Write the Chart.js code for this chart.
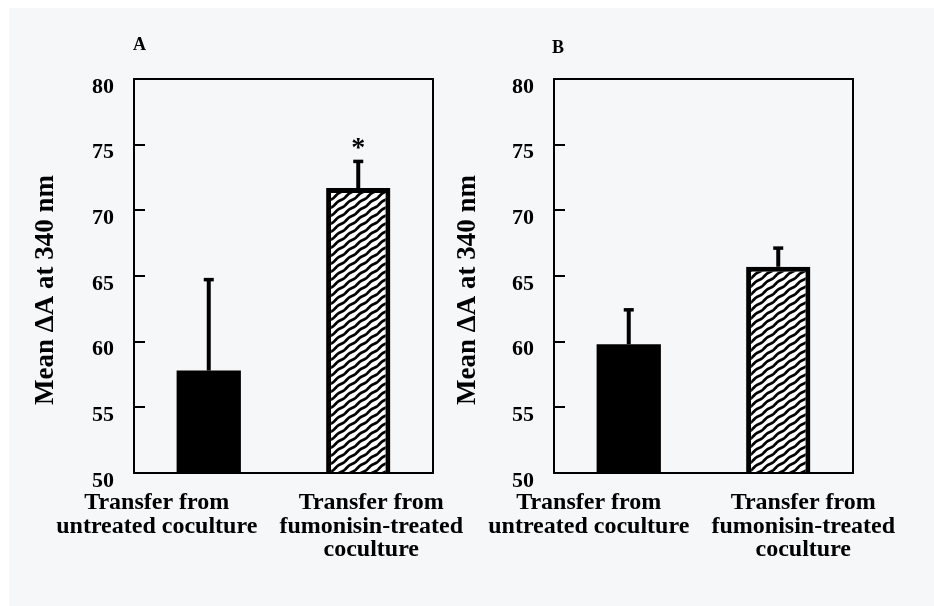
<!DOCTYPE html>
<html>
<head>
<meta charset="utf-8">
<script src="https://cdn.jsdelivr.net/npm/chart.js@4.4.1/dist/chart.umd.min.js"></script>
<style>
  html, body { margin: 0; padding: 0; background: #fff; width: 934px; height: 606px; overflow: hidden; }
  #paper { position: absolute; left: 9px; top: 8px; right: 0; bottom: 0; background: #f6f7f9; }
  .panel { position: absolute; top: 0; height: 606px; }
</style>
</head>
<body>
<div id="paper"></div>
<div class="panel" style="left:0;width:470px"><canvas id="chartA"></canvas></div>
<div class="panel" style="left:440px;width:494px"><canvas id="chartB"></canvas></div>
<script>
const categories = [
  ["Transfer from", "untreated coculture"],
  ["Transfer from", "fumonisin-treated", "coculture"]
];
const meansA = [57.8, 71.7];
const errorsA = [7.0, 2.1];
const starsA = [false, true];
const meansB = [59.8, 65.7];
const errorsB = [2.7, 1.5];
const starsB = [false, false];
const yMin = 50;
const yMax = 80;
const yStep = 5;
const axisTitle = "Mean \u0394A at 340 nm";

const SERIF = "'Liberation Serif', 'Times New Roman', serif";

// wavy diagonal hatch used for the treated bar
function makeHatch() {
  const w = 11, h = 8;
  const c = document.createElement("canvas");
  c.width = w; c.height = h;
  const g = c.getContext("2d");
  g.fillStyle = "#fff";
  g.fillRect(0, 0, w, h);
  g.strokeStyle = "#000";
  g.lineWidth = 2.7;
  for (const dy of [-h, 0, h]) {
    g.beginPath();
    for (let px = -2; px <= w + 2; px += 0.5) {
      const py = h - px * h / w + dy + 0.55 * Math.sin(2 * Math.PI * px / w);
      if (px === -2) g.moveTo(px, py); else g.lineTo(px, py);
    }
    g.stroke();
  }
  return g.createPattern(c, "repeat");
}

const panelDecor = {
  id: "panelDecor",
  afterDatasetsDraw(chart, args, opts) {
    const { ctx, chartArea: a, scales: { x, y } } = chart;
    ctx.save();
    ctx.strokeStyle = "#000";
    ctx.fillStyle = "#000";

    // frame
    ctx.lineWidth = 2;
    ctx.strokeRect(a.left, a.top, a.right - a.left, a.bottom - a.top);

    // inner tick marks
    y.ticks.forEach((t) => {
      const py = Math.round(y.getPixelForValue(t.value));
      ctx.beginPath();
      ctx.moveTo(a.left, py);
      ctx.lineTo(a.left + 11, py);
      ctx.stroke();
    });

    // error bars (upper only)
    const meta = chart.getDatasetMeta(0);
    opts.errors.forEach((e, i) => {
      const bar = meta.data[i];
      const top = y.getPixelForValue(opts.means[i] + e);
      ctx.lineWidth = 4;
      ctx.beginPath();
      ctx.moveTo(bar.x, bar.y);
      ctx.lineTo(bar.x, top);
      ctx.stroke();
      ctx.lineWidth = 3.5;
      ctx.beginPath();
      ctx.moveTo(bar.x - 5, top + 1);
      ctx.lineTo(bar.x + 5, top + 1);
      ctx.stroke();
      if (opts.stars[i]) {
        ctx.font = "bold 28px " + SERIF;
        ctx.textAlign = "center";
        ctx.textBaseline = "alphabetic";
        ctx.fillText("*", bar.x, top - 4);
      }
    });

    // category labels
    ctx.font = "bold 24px " + SERIF;
    ctx.textAlign = "center";
    ctx.textBaseline = "alphabetic";
    categories.forEach((lines, i) => {
      const cx = x.getPixelForValue(i) + opts.labelShift[i];
      lines.forEach((s, k) => ctx.fillText(s, cx, a.bottom + 36 + k * 23.5));
    });

    // y axis title
    ctx.save();
    ctx.translate(opts.titleX, (a.top + a.bottom) / 2 + 14);
    ctx.rotate(-Math.PI / 2);
    ctx.font = "bold 27px " + SERIF;
    ctx.fillText(axisTitle, 0, 0);
    ctx.restore();

    // panel letter
    ctx.font = "bold 18px " + SERIF;
    ctx.textAlign = "left";
    ctx.fillText(opts.letter, opts.letterX, opts.letterY);
    ctx.restore();
  }
};

function buildPanel(id, means, errors, stars, cfg) {
  return new Chart(document.getElementById(id), {
    type: "bar",
    data: {
      labels: categories.map((c) => c.join(" ")),
      datasets: [{
        data: means,
        backgroundColor: ["#000", makeHatch()],
        borderColor: "#000",
        borderWidth: [0, 5],
        borderSkipped: false,
        categoryPercentage: 1,
        barPercentage: 0.43
      }]
    },
    options: {
      responsive: true,
      maintainAspectRatio: false,
      animation: false,
      devicePixelRatio: 1,
      layout: { padding: { left: 0, right: cfg.padRight, top: 79, bottom: 133 } },
      plugins: {
        legend: { display: false },
        tooltip: { enabled: false },
        panelDecor: { means, errors, stars, ...cfg }
      },
      scales: {
        x: { display: false },
        y: {
          min: yMin,
          max: yMax,
          grid: { display: false, drawTicks: false },
          border: { display: false },
          ticks: {
            stepSize: yStep,
            color: "#000",
            padding: 20,
            labelOffset: 8,
            font: { family: SERIF, size: 22, weight: "bold" }
          },
          afterFit(scale) {
            scale.width = cfg.axisWidth;
            scale.paddingTop = 0;
            scale.paddingBottom = 0;
          }
        }
      }
    },
    plugins: [panelDecor]
  });
}

buildPanel("chartA", meansA, errorsA, starsA, {
  axisWidth: 134, padRight: 37, titleX: 53, letter: "A", letterX: 133, letterY: 50, labelShift: [-52, 13]
});
buildPanel("chartB", meansB, errorsB, starsB, {
  axisWidth: 114, padRight: 81, titleX: 35, letter: "B", letterX: 112, letterY: 53, labelShift: [-40, 25]
});
</script>
</body>
</html>
